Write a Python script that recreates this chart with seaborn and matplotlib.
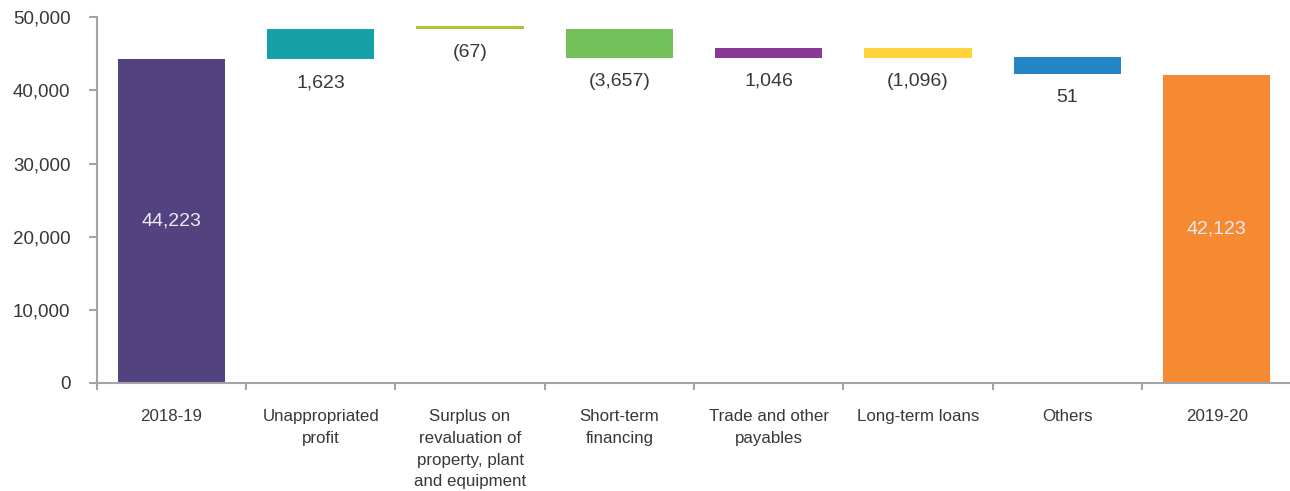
import matplotlib
matplotlib.use('Agg')

import matplotlib.pyplot as plt
import seaborn as sns
import numpy as np

# ===== DATA =====
categories = ["2018-19", "Unappropriated\nprofit",
              "Surplus on\nrevaluation of\nproperty, plant\nand equipment",
              "Short-term\nfinancing", "Trade and other\npayables",
              "Long-term loans", "Others", "2019-20"]
# bar tops / bottoms
tops = [44223, 48390, 48800, 48390, 45800, 45800, 44570, 42123]
bottoms = [0, 44223, 48420, 44470, 44470, 44470, 42280, 0]
value_labels = ["44,223", "1,623", "(67)", "(3,657)", "1,046", "(1,096)", "51", "42,123"]
colors = ["#524380", "#16A0A8", "#B3C334", "#72C05A", "#8A3A96", "#FFD13A", "#2485C6", "#F68A33"]
yticks = [0, 10000, 20000, 30000, 40000, 50000]

# ===== STYLE =====
sns.set_theme(style="white")
plt.rcParams['font.family'] = ['Liberation Sans', 'DejaVu Sans']
text_col = "#383838"
axis_col = "#A3A3AA"

fig = plt.figure(figsize=(12.9, 4.91), dpi=100)
ax = fig.add_axes([0.075, 0.22, 0.926, 0.745])

# full bars up to the top, then white bars hide the part below each floating step
sns.barplot(x=categories, y=tops, hue=categories, palette=colors, legend=False,
            width=0.72, saturation=1, linewidth=0, ax=ax,
            order=categories, hue_order=categories)
sns.barplot(x=categories, y=bottoms, color="white", width=0.74, saturation=1,
            linewidth=0, ax=ax, order=categories)

ax.set_ylim(0, 50000)
ax.set_xlim(-0.5, len(categories) - 0.5)
ax.set_yticks(yticks)
ax.set_yticklabels([f"{v:,}" for v in yticks])

# category boundaries get the ticks, names sit at the centres
ax.set_xticks(np.arange(len(categories)))
ax.set_xticklabels(categories, linespacing=1.55)
ax.set_xticks(np.arange(len(categories)) - 0.5, minor=True)
ax.tick_params(axis='x', which='major', length=0, pad=19, labelsize=12.2, labelcolor=text_col)
ax.tick_params(axis='x', which='minor', length=5, width=1.5, color=axis_col, direction='out', bottom=True)
ax.tick_params(axis='y', length=6, width=1.5, color=axis_col, direction='out', left=True,
               pad=13, labelsize=13.5, labelcolor=text_col)

for s in ["top", "right"]:
    ax.spines[s].set_visible(False)
for s in ["left", "bottom"]:
    ax.spines[s].set_color(axis_col)
    ax.spines[s].set_linewidth(1.5)

ax.set_xlabel("")
ax.set_ylabel("")

# ===== LABELS =====
last = len(categories) - 1
for i, lab in enumerate(value_labels):
    if i == 0 or i == last:
        ax.text(i, tops[i] * 0.5, lab, ha="center", va="center",
                fontsize=14, color="#EEEAF5")
    else:
        ax.annotate(lab, (i, bottoms[i]), xytext=(0, -17), textcoords="offset points",
                    ha="center", va="center", fontsize=14, color=text_col)

plt.savefig("out.png", dpi=100)
plt.close()
